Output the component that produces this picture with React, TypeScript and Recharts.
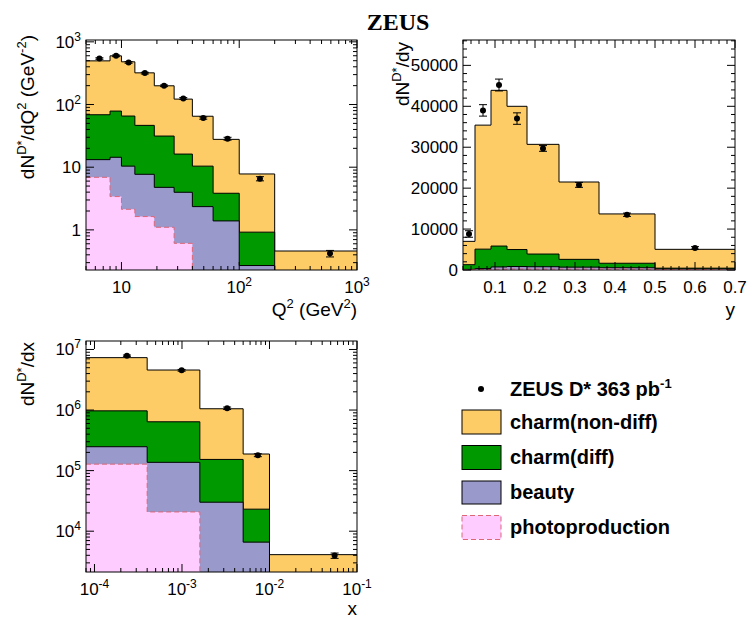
import React from 'react';
import { ComposedChart, Area, Scatter, XAxis, YAxis, ErrorBar } from 'recharts';

const FONT = '"Liberation Sans", Arial, Helvetica, sans-serif';
const ORANGE = '#fecc66';
const GREEN = '#009900';
const BLUE = '#9999cc';
const PINK = '#ffccff';
const PINK_LINE = '#dd6677';

// ---------- Q^2 panel ----------
const q2Edges = [5, 8, 10, 13, 19, 28, 40, 60, 100, 200, 1000];
const q2CharmNonDiff = [497, 598, 480, 320, 199, 122, 65, 27.8, 7.8, 0.46];
const q2CharmDiff = [68.7, 78.6, 65.5, 46.5, 31.4, 16.2, 10.4, 3.84, 0.92, 0.1];
const q2Beauty = [13.2, 14.4, 10.4, 7.7, 4.77, 3.98, 2.35, 1.39, 0.27, 0.05];
const q2Photo = [6.9, 3.4, 2.13, 1.63, 1.1, 0.61, 0.15, 0.08, 0.03, 0.01];
const q2PointX = [6.5, 9.0, 11.5, 15.8, 23, 33.5, 49.5, 79.6, 150, 590];
const q2PointY = [542, 598, 469, 317, 199, 125, 60.8, 28.5, 6.56, 0.42];
const q2PointErr = [15, 18, 14, 10, 6, 4, 2.5, 1.5, 0.5, 0.05];

// ---------- y panel ----------
const yEdges = [0.02, 0.05, 0.09, 0.13, 0.18, 0.26, 0.36, 0.5, 0.7];
const yCharmNonDiff = [7000, 35400, 43900, 40000, 30700, 21500, 13700, 5050];
const yCharmDiff = [1300, 5100, 5850, 5000, 3900, 2600, 1650, 450];
const yBeauty = [150, 350, 750, 850, 800, 700, 550, 250];
const yPhoto = [80, 120, 220, 250, 250, 250, 250, 120];
const yPointX = [0.035, 0.07, 0.11, 0.155, 0.22, 0.31, 0.43, 0.6];
const yPointY = [8800, 39000, 45200, 37000, 29700, 20800, 13500, 5400];
const yPointErr = [800, 1400, 1450, 1400, 700, 600, 400, 300];

// ---------- x panel ----------
const xEdges = [8e-5, 4e-4, 1.6e-3, 5e-3, 1e-2, 0.1];
const xCharmNonDiff = [7.33e6, 4.58e6, 1.05e6, 1.88e5, 4.1e3];
const xCharmDiff = [9.7e5, 6.4e5, 1.53e5, 2.31e4, 500];
const xBeauty = [2.48e5, 1.37e5, 3.01e4, 6.6e3, 200];
const xPhoto = [1.28e5, 2.08e4, 800, 300, 100];
const xPointX = [2.35e-4, 9.9e-4, 3.28e-3, 7.36e-3, 0.0555];
const xPointY = [7.9e6, 4.53e6, 1.07e6, 1.8e5, 3.96e3];
const xPointErr = [2e5, 1.5e5, 5e4, 1e4, 400];

// ---------- helpers ----------
const histData = (edges: number[], vals: number[]) =>
  edges.map((x, i) => ({ x, y: vals[Math.min(i, vals.length - 1)] }));
const pointData = (xs: number[], ys: number[], es: number[]) =>
  xs.map((x, i) => ({ x, y: ys[i], e: es[i] }));

function logTicks(lo: number, hi: number) {
  const out: number[] = [];
  for (let e = Math.floor(Math.log10(lo)); e <= Math.ceil(Math.log10(hi)); e++) {
    for (let m = 1; m < 10; m++) {
      const v = m * Math.pow(10, e);
      if (v >= lo * 0.9999 && v <= hi * 1.0001) out.push(v);
    }
  }
  return out;
}
const isMajor = (arr: number[], v: number) =>
  arr.some((m) => (m === 0 ? Math.abs(v) < 1e-9 : Math.abs(m - v) <= Math.abs(m) * 1e-6));

const logFmt = (v: number) => {
  const e = Math.round(Math.log10(v));
  if (e === 0) return '1';
  if (e === 1) return '10';
  return (
    <>
      10<tspan dy={-7} fontSize={12}>{e}</tspan>
    </>
  );
};

const Dot = (props: any) => <circle cx={props.cx} cy={props.cy} r={3} fill="#000" />;

type Hist = { data: { x: number; y: number }[]; fill: string; stroke: string; dash?: string };

function Panel(p: any) {
  const { width, height, plot } = p;
  const L = plot.L;
  const R = plot.R;
  const T = plot.T;
  const B = plot.B;
  const margin = { top: T, left: L - 1, right: width - R, bottom: height - B - 1 };
  const XTick = (props: any) => {
    const x = props.x;
    const v = props.payload.value;
    const maj = isMajor(p.xMajors, v);
    const len = maj ? 8 : 4;
    return (
      <g>
        <line x1={x} x2={x} y1={B} y2={B - len} stroke="#000" strokeWidth={1} />
        <line x1={x} x2={x} y1={T} y2={T + len} stroke="#000" strokeWidth={1} />
        {maj ? (
          <text x={x} y={B + 23} textAnchor="middle" fontFamily={FONT} fontSize={17} fill="#000">
            {p.xFmt(v)}
          </text>
        ) : null}
      </g>
    );
  };
  const YTick = (props: any) => {
    const y = props.y;
    const v = props.payload.value;
    const maj = isMajor(p.yMajors, v);
    const len = maj ? 8 : 4;
    return (
      <g>
        <line x1={L} x2={L + len} y1={y} y2={y} stroke="#000" strokeWidth={1} />
        <line x1={R} x2={R - len} y1={y} y2={y} stroke="#000" strokeWidth={1} />
        {maj ? (
          <text x={L - 5} y={y + 6} textAnchor="end" fontFamily={FONT} fontSize={17} fill="#000">
            {p.yFmt(v)}
          </text>
        ) : null}
      </g>
    );
  };
  return (
    <ComposedChart width={width} height={height} margin={margin}>
      <XAxis
        dataKey="x"
        type="number"
        scale={p.xScale}
        domain={p.xDomain}
        allowDataOverflow
        ticks={p.xTicks}
        interval={0}
        tick={XTick}
        tickLine={false}
        axisLine={false}
        height={1}
        tickSize={0}
        tickMargin={0}
      />
      <YAxis
        type="number"
        scale={p.yScale}
        domain={p.yDomain}
        allowDataOverflow
        ticks={p.yTicks}
        interval={0}
        tick={YTick}
        tickLine={false}
        axisLine={false}
        width={1}
        tickSize={0}
        tickMargin={0}
      />
      {p.hists.map((h: Hist, i: number) => (
        <Area
          key={i}
          data={h.data}
          dataKey="y"
          type="stepAfter"
          fill={h.fill}
          fillOpacity={1}
          stroke={h.stroke}
          strokeWidth={1}
          strokeDasharray={h.dash}
          baseValue={p.yDomain[0]}
          isAnimationActive={false}
          dot={false}
          activeDot={false}
        />
      ))}
      <Scatter data={p.points} dataKey="y" fill="#000" shape={Dot} isAnimationActive={false}>
        <ErrorBar dataKey="e" direction="y" width={4} stroke="#000" strokeWidth={1} />
      </Scatter>
    </ComposedChart>
  );
}

export default function App() {
  const q2Hists: Hist[] = [
    { data: histData(q2Edges, q2CharmNonDiff), fill: ORANGE, stroke: '#000' },
    { data: histData(q2Edges, q2CharmDiff), fill: GREEN, stroke: '#000' },
    { data: histData(q2Edges, q2Beauty), fill: BLUE, stroke: '#000' },
    { data: histData(q2Edges, q2Photo), fill: PINK, stroke: PINK_LINE, dash: '5 3' },
  ];
  const yHists: Hist[] = [
    { data: histData(yEdges, yCharmNonDiff), fill: ORANGE, stroke: '#000' },
    { data: histData(yEdges, yCharmDiff), fill: GREEN, stroke: '#000' },
    { data: histData(yEdges, yBeauty), fill: BLUE, stroke: '#000' },
    { data: histData(yEdges, yPhoto), fill: PINK, stroke: PINK_LINE, dash: '5 3' },
  ];
  const xHists: Hist[] = [
    { data: histData(xEdges, xCharmNonDiff), fill: ORANGE, stroke: '#000' },
    { data: histData(xEdges, xCharmDiff), fill: GREEN, stroke: '#000' },
    { data: histData(xEdges, xBeauty), fill: BLUE, stroke: '#000' },
    { data: histData(xEdges, xPhoto), fill: PINK, stroke: PINK_LINE, dash: '5 3' },
  ];

  const q2XDomain = [5, 1000];
  const q2YDomain = [0.229, 1070];
  const yXDomain = [0.02, 0.7];
  const yYDomain = [0, 56200];
  const xXDomain = [8e-5, 0.1];
  const xYDomain = [2120, 1.38e7];

  const yXTicks = Array.from({ length: 35 }, (_, i) => Math.round((i + 1) * 2) / 100);
  const yYTicks = Array.from({ length: 29 }, (_, i) => i * 2000);

  const txt = { fontFamily: FONT, fill: '#000' } as const;

  return (
    <div style={{ position: 'absolute', left: 0, top: 0, width: 747, height: 619, background: '#fff', overflow: 'hidden' }}>
      <div style={{ position: 'absolute', left: 0, top: 0 }}>
        <Panel
          width={378}
          height={330}
          plot={{ L: 86, R: 357, T: 40, B: 270 }}
          xScale="log"
          yScale="log"
          xDomain={q2XDomain}
          yDomain={q2YDomain}
          xTicks={logTicks(5, 1000)}
          yTicks={logTicks(0.229, 1070)}
          xMajors={[10, 100, 1000]}
          yMajors={[1, 10, 100, 1000]}
          xFmt={logFmt}
          yFmt={logFmt}
          hists={q2Hists}
          points={pointData(q2PointX, q2PointY, q2PointErr)}
        />
      </div>
      <div style={{ position: 'absolute', left: 380, top: 0 }}>
        <Panel
          width={367}
          height={330}
          plot={{ L: 83, R: 355, T: 40, B: 270 }}
          xScale="linear"
          yScale="linear"
          xDomain={yXDomain}
          yDomain={yYDomain}
          xTicks={yXTicks}
          yTicks={yYTicks}
          xMajors={[0.1, 0.2, 0.3, 0.4, 0.5, 0.6, 0.7]}
          yMajors={[0, 10000, 20000, 30000, 40000, 50000]}
          xFmt={(v: number) => v.toFixed(1)}
          yFmt={(v: number) => String(Math.round(v))}
          hists={yHists}
          points={pointData(yPointX, yPointY, yPointErr)}
        />
      </div>
      <div style={{ position: 'absolute', left: 0, top: 310 }}>
        <Panel
          width={385}
          height={309}
          plot={{ L: 86, R: 357, T: 31, B: 262 }}
          xScale="log"
          yScale="log"
          xDomain={xXDomain}
          yDomain={xYDomain}
          xTicks={logTicks(8e-5, 0.1)}
          yTicks={logTicks(2120, 1.38e7)}
          xMajors={[1e-4, 1e-3, 1e-2, 1e-1]}
          yMajors={[1e4, 1e5, 1e6, 1e7]}
          xFmt={logFmt}
          yFmt={logFmt}
          hists={xHists}
          points={pointData(xPointX, xPointY, xPointErr)}
        />
      </div>
      <svg width={747} height={619} style={{ position: 'absolute', left: 0, top: 0, pointerEvents: 'none' }}>
        {/* frames */}
        <rect x={86} y={40} width={271} height={230} fill="none" stroke="#000" strokeWidth={1} />
        <rect x={463} y={40} width={272} height={230} fill="none" stroke="#000" strokeWidth={1} />
        <rect x={86} y={341} width={271} height={231} fill="none" stroke="#000" strokeWidth={1} />

        {/* title */}
        <text x={398} y={30} textAnchor="middle" fontFamily='"Liberation Serif", "Times New Roman", serif' fontWeight="bold" fontSize={24} fill="#000">
          ZEUS
        </text>

        {/* Q2 axis titles */}
        <text {...txt} fontSize={19} x={34} y={35} textAnchor="end" transform="rotate(-90, 34, 35)">
          dN<tspan dy={-8} fontSize={13}>D*</tspan>
          <tspan dy={8}>/dQ</tspan>
          <tspan dy={-8} fontSize={13}>2</tspan>
          <tspan dy={8}> (GeV</tspan>
          <tspan dy={-8} fontSize={13}>-2</tspan>
          <tspan dy={8}>)</tspan>
        </text>
        <text {...txt} fontSize={19} x={357} y={316} textAnchor="end">
          Q<tspan dy={-8} fontSize={13}>2</tspan>
          <tspan dy={8}> (GeV</tspan>
          <tspan dy={-8} fontSize={13}>2</tspan>
          <tspan dy={8}>)</tspan>
        </text>

        {/* y axis titles */}
        <text {...txt} fontSize={19} x={409} y={42} textAnchor="end" transform="rotate(-90, 409, 42)">
          dN<tspan dy={-8} fontSize={13}>D*</tspan>
          <tspan dy={8}>/dy</tspan>
        </text>
        <text {...txt} fontSize={19} x={735} y={316} textAnchor="end">y</text>

        {/* x axis titles */}
        <text {...txt} fontSize={19} x={34} y={342} textAnchor="end" transform="rotate(-90, 34, 342)">
          dN<tspan dy={-8} fontSize={13}>D*</tspan>
          <tspan dy={8}>/dx</tspan>
        </text>
        <text {...txt} fontSize={19} x={357} y={615} textAnchor="end">x</text>

        {/* legend */}
        <circle cx={481} cy={389} r={3} fill="#000" />
        <text {...txt} fontSize={20} fontWeight="bold" x={510} y={396}>
          ZEUS D* 363 pb<tspan dy={-8} fontSize={13}>-1</tspan>
        </text>
        <rect x={462} y={410} width={39} height={24} fill={ORANGE} stroke="#000" strokeWidth={1} />
        <text {...txt} fontSize={20} fontWeight="bold" x={510} y={429}>charm(non-diff)</text>
        <rect x={462} y={445.5} width={39} height={24} fill={GREEN} stroke="#000" strokeWidth={1} />
        <text {...txt} fontSize={20} fontWeight="bold" x={510} y={464}>charm(diff)</text>
        <rect x={462} y={481} width={39} height={23} fill={BLUE} stroke="#000" strokeWidth={1} />
        <text {...txt} fontSize={20} fontWeight="bold" x={510} y={499}>beauty</text>
        <rect x={462} y={515.5} width={39} height={24} fill={PINK} stroke={PINK_LINE} strokeWidth={1} strokeDasharray="5 3" />
        <text {...txt} fontSize={20} fontWeight="bold" x={510} y={534}>photoproduction</text>
      </svg>
    </div>
  );
}
